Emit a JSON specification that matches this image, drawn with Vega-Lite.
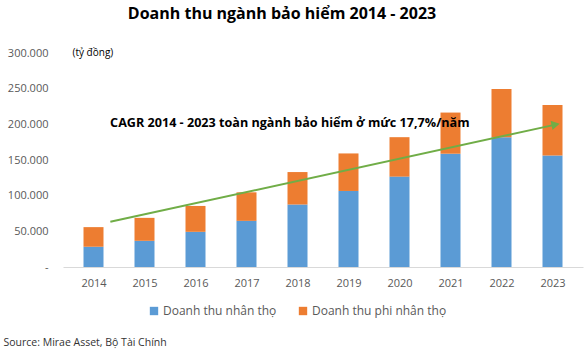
{
  "$schema": "https://vega.github.io/schema/vega-lite/v6.json",
  "width": 520,
  "height": 214,
  "autosize": {"type": "none"},
  "padding": {"left": 63, "top": 53, "right": 2, "bottom": 86},
  "background": "white",
  "title": {
    "text": "Doanh thu ngành bảo hiểm 2014 - 2023",
    "font": "Open Sans",
    "fontSize": 16,
    "fontWeight": "bold",
    "color": "#000000",
    "anchor": "middle",
    "frame": "group",
    "dx": -41,
    "offset": 25
  },
  "config": {
    "view": {"stroke": null},
    "font": "Open Sans",
    "locale": {"number": {"decimal": ",", "thousands": ".", "grouping": [3], "currency": ["", " ₫"]}},
    "axis": {"labelOverlap": false},
    "axisY": {
      "grid": false,
      "ticks": false,
      "domain": false,
      "labelColor": "#595959",
      "labelFontSize": 11,
      "labelPadding": 15,
      "labelOverlap": false,
      "titleAngle": 0,
      "titleFont": "Open Sans",
      "titleFontSize": 10,
      "titleFontWeight": "normal",
      "titleColor": "#000000",
      "titleAlign": "left",
      "titleBaseline": "middle",
      "titleX": 9,
      "titleY": -1
    },
    "axisX": {
      "grid": false,
      "ticks": false,
      "domainColor": "#d9d9d9",
      "domainWidth": 1,
      "labelColor": "#595959",
      "labelFontSize": 11,
      "labelPadding": 10,
      "labelOverlap": false,
      "titleFont": "Open Sans",
      "titleFontSize": 10.5,
      "titleFontWeight": "normal",
      "titleColor": "#333333",
      "titleAnchor": "start",
      "titleAlign": "left",
      "titleBaseline": "middle",
      "titleX": -60,
      "titleY": 75
    }
  },
  "datasets": {
    "bars": [
      {"year": 2014, "series": "Doanh thu nhân thọ", "value": 28400},
      {"year": 2014, "series": "Doanh thu phi nhân thọ", "value": 27500},
      {"year": 2015, "series": "Doanh thu nhân thọ", "value": 36700},
      {"year": 2015, "series": "Doanh thu phi nhân thọ", "value": 32200},
      {"year": 2016, "series": "Doanh thu nhân thọ", "value": 49300},
      {"year": 2016, "series": "Doanh thu phi nhân thọ", "value": 36300},
      {"year": 2017, "series": "Doanh thu nhân thọ", "value": 64700},
      {"year": 2017, "series": "Doanh thu phi nhân thọ", "value": 40000},
      {"year": 2018, "series": "Doanh thu nhân thọ", "value": 87600},
      {"year": 2018, "series": "Doanh thu phi nhân thọ", "value": 45500},
      {"year": 2019, "series": "Doanh thu nhân thọ", "value": 106600},
      {"year": 2019, "series": "Doanh thu phi nhân thọ", "value": 52600},
      {"year": 2020, "series": "Doanh thu nhân thọ", "value": 126700},
      {"year": 2020, "series": "Doanh thu phi nhân thọ", "value": 55300},
      {"year": 2021, "series": "Doanh thu nhân thọ", "value": 158800},
      {"year": 2021, "series": "Doanh thu phi nhân thọ", "value": 57700},
      {"year": 2022, "series": "Doanh thu nhân thọ", "value": 182000},
      {"year": 2022, "series": "Doanh thu phi nhân thọ", "value": 67600},
      {"year": 2023, "series": "Doanh thu nhân thọ", "value": 156400},
      {"year": 2023, "series": "Doanh thu phi nhân thọ", "value": 70800}
    ],
    "trend": [
      {"year": 2014.33, "value": 63400},
      {"year": 2023.06, "value": 199600}
    ],
    "head": [
      {"year": 2023.06, "value": 199600}
    ],
    "note": [
      {"year": 2017.85, "value": 202000, "label": "CAGR 2014 - 2023 toàn ngành bảo hiểm ở mức 17,7%/năm"}
    ]
  },
  "encoding": {
    "x": {
      "field": "year",
      "type": "quantitative",
      "scale": {"domain": [2013.5, 2023.5], "nice": false, "zero": false},
      "axis": {
        "values": [2014, 2015, 2016, 2017, 2018, 2019, 2020, 2021, 2022, 2023],
        "format": "d",
        "title": "Source: Mirae Asset, Bộ Tài Chính"
      }
    },
    "y": {
      "field": "value",
      "type": "quantitative",
      "scale": {"domain": [0, 300000], "nice": false},
      "axis": {
        "values": [0, 50000, 100000, 150000, 200000, 250000, 300000],
        "format": ",d",
        "labelExpr": "datum.value == 0 ? '-' : datum.label",
        "title": "(tỷ đồng)"
      }
    }
  },
  "layer": [
    {
      "data": {"name": "bars"},
      "mark": {"type": "bar", "size": 20},
      "encoding": {
        "y": {
          "field": "value",
          "type": "quantitative",
          "stack": "zero",
          "scale": {"domain": [0, 300000], "nice": false},
          "axis": {
            "values": [0, 50000, 100000, 150000, 200000, 250000, 300000],
            "format": ",d",
            "labelExpr": "datum.value == 0 ? '-' : datum.label",
            "title": "(tỷ đồng)"
          }
        },
        "color": {
          "field": "series",
          "type": "nominal",
          "scale": {
            "domain": ["Doanh thu nhân thọ", "Doanh thu phi nhân thọ"],
            "range": ["#5b9bd5", "#ed7d31"]
          },
          "legend": {
            "title": null,
            "orient": "none",
            "direction": "horizontal",
            "legendX": 85,
            "legendY": 252,
            "symbolType": "square",
            "symbolSize": 70,
            "symbolStrokeWidth": 0,
            "labelFontSize": 12,
            "labelColor": "#595959",
            "labelFont": "Open Sans",
            "columnPadding": 20,
            "labelOffset": 3
          }
        },
        "order": {"field": "series", "sort": "ascending"}
      }
    },
    {
      "data": {"name": "trend"},
      "mark": {"type": "line", "color": "#70ad47", "strokeWidth": 2}
    },
    {
      "data": {"name": "head"},
      "mark": {"type": "point", "shape": "triangle-right", "filled": true, "color": "#70ad47", "opacity": 1, "size": 90, "angle": 348}
    },
    {
      "data": {"name": "note"},
      "mark": {"type": "text", "font": "Open Sans", "fontSize": 12.6, "fontWeight": "bold", "color": "#000000", "align": "center", "baseline": "middle"},
      "encoding": {
        "text": {"field": "label"}
      }
    }
  ]
}
